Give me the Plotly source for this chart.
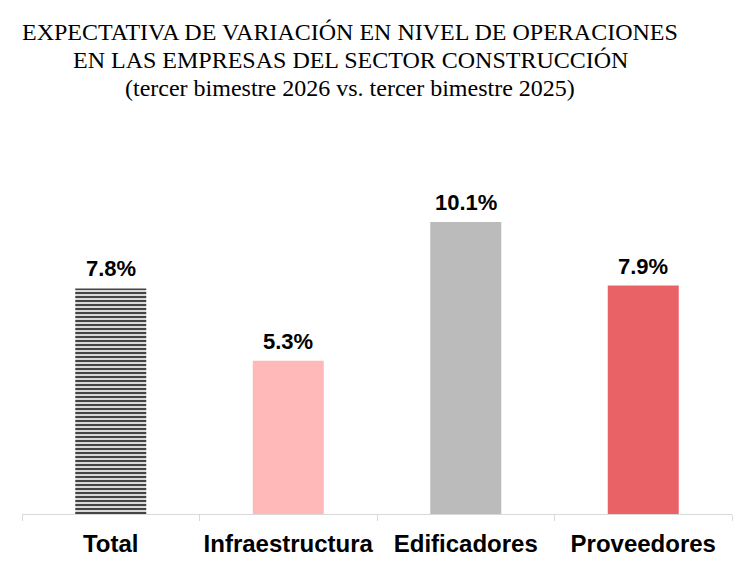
import plotly.graph_objects as go

categories = ["Total", "Infraestructura", "Edificadores", "Proveedores"]
values = [7.8, 5.3, 10.1, 7.9]
colors = ["#FFFFFF", "#FFB9B9", "#BBBBBB", "#E96366"]
title_lines = [
    "EXPECTATIVA DE VARIACIÓN EN NIVEL DE OPERACIONES",
    "EN LAS EMPRESAS DEL SECTOR CONSTRUCCIÓN",
    "(tercer bimestre 2026 vs. tercer bimestre 2025)",
]

W, H = 743, 582
ML, MR, MT, MB = 22, 11, 167, 68
plot_h = H - MT - MB
plot_w = W - ML - MR

fig = go.Figure()
fig.add_trace(go.Bar(
    x=categories,
    y=values,
    width=0.40,
    marker=dict(
        color=colors,
        line=dict(width=0),
        pattern=dict(
            shape=["-", "", "", ""],
            fgcolor="black",
            size=4,
            solidity=0.6,
            fillmode="overlay",
            fgopacity=1,
        ),
    ),
    cliponaxis=False,
))

for c, v in zip(categories, values):
    fig.add_annotation(
        x=c, y=v, xref="x", yref="y",
        text=f"{v:.1f}%", showarrow=False,
        yanchor="bottom", yshift=5,
        font=dict(family="Liberation Sans", size=22, color="black", weight="bold"),
    )

title_y = [32, 60, 88]
for line, yc in zip(title_lines, title_y):
    fig.add_annotation(
        x=(350 - ML) / plot_w, y=(H - MB - yc) / plot_h, xref="paper", yref="paper",
        text=line, showarrow=False, xanchor="center", yanchor="middle",
        font=dict(family="Liberation Serif", size=24, color="black"),
    )

fig.update_layout(
    width=W, height=H,
    margin=dict(l=ML, r=MR, t=MT, b=MB),
    plot_bgcolor="white", paper_bgcolor="white",
    showlegend=False,
    xaxis=dict(
        showline=True, linecolor="#D9D9D9", linewidth=1,
        ticks="outside", tickson="boundaries", ticklen=6, tickcolor="#D9D9D9",
        tickfont=dict(family="Liberation Sans", size=24, color="black", weight="bold"),
        tickangle=0,
        ticklabelstandoff=8,
        showgrid=False,
    ),
    yaxis=dict(range=[0, 12], visible=False, showgrid=False),
)

fig.write_html("out.html")
